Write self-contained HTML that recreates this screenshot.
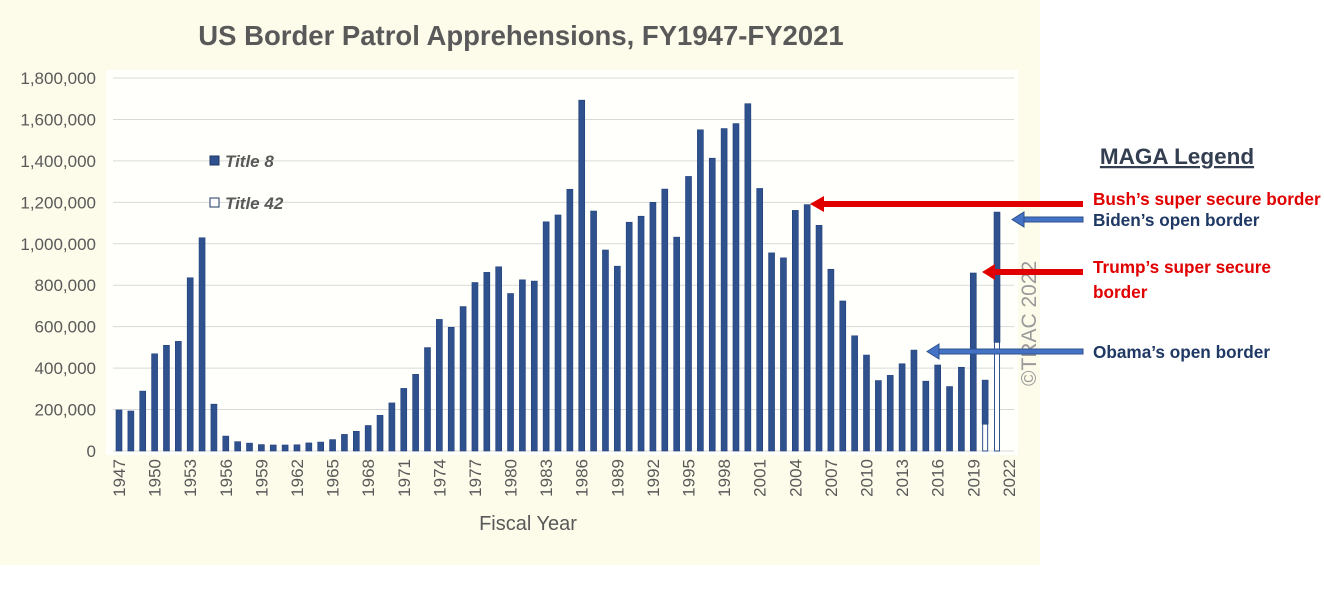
<!DOCTYPE html>
<html><head><meta charset="utf-8"><style>
body{margin:0;background:#fff;width:1324px;height:584px;overflow:hidden;font-family:"Liberation Sans",sans-serif}
</style></head><body>
<svg id="c" width="1324" height="584" xmlns="http://www.w3.org/2000/svg">
<rect x="0" y="0" width="1040" height="565" fill="#fdfbea"/>
<rect x="106" y="70" width="912" height="385" fill="#fffffb"/>
<text x="521" y="45" text-anchor="middle" font-size="27.5" font-weight="bold" fill="#595959">US Border Patrol Apprehensions, FY1947-FY2021</text>
<g id="grid"></g><g id="bars"></g><g id="xt"></g>
<text x="528" y="530" text-anchor="middle" font-size="20" fill="#595959">Fiscal Year</text>
<rect x="210" y="156" width="9" height="9" fill="#2f528f" stroke="#1f3864"/>
<text x="225" y="167" font-size="17" font-weight="bold" font-style="italic" fill="#595959">Title 8</text>
<rect x="210" y="198" width="9" height="9" fill="#fff" stroke="#1f3864"/>
<text x="225" y="209" font-size="17" font-weight="bold" font-style="italic" fill="#595959">Title 42</text>
<text transform="translate(1036,386) rotate(-90)" font-size="21" fill="#9a9a9a">©TRAC 2022</text>
<text x="1177" y="164" text-anchor="middle" font-size="22.5" font-weight="bold" fill="#333f50" text-decoration="underline">MAGA Legend</text>
<g><rect x="822" y="201" width="261" height="6" fill="#e00000"/><polygon points="810,204 824,196 824,212" fill="#e00000"/></g>
<g><rect x="1022" y="217" width="61" height="5" fill="#4472c4" stroke="#2f528f" stroke-width="1"/><polygon points="1012,219.5 1024,212 1024,227" fill="#4472c4" stroke="#2f528f"/></g>
<g><rect x="993" y="269" width="90" height="6" fill="#e00000"/><polygon points="982,272 995,264 995,280" fill="#e00000"/></g>
<g><rect x="937" y="349" width="146" height="5" fill="#4472c4" stroke="#2f528f" stroke-width="1"/><polygon points="927,351.5 939,344 939,359" fill="#4472c4" stroke="#2f528f"/></g>
<g font-size="17.2" font-weight="bold">
<text x="1093" y="205" fill="#e00000">Bush’s super secure border</text>
<text x="1093" y="226" fill="#1f3864">Biden’s open border</text>
<text x="1093" y="273" fill="#e00000">Trump’s super secure</text>
<text x="1093" y="298" fill="#e00000">border</text>
<text x="1093" y="358" fill="#1f3864">Obama’s open border</text>
</g>
</svg>
<script>
const years=[];for(let y=1947;y<=2021;y++)years.push(y);
const title8=[198,193,289,469,510,529,836,1029,226,72,45,38,31,29,29,30,39,43,55,80,95,123,172,232,302,370,499,635,597,697,813,862,889,760,826,820,1106,1139,1263,1693,1158,970,892,1104,1133,1200,1264,1032,1325,1550,1413,1556,1580,1676,1267,956,932,1161,1189,1089,877,724,556,463,340,365,421,487,337,415,311,404,859,212,628];
const title42=[0,0,0,0,0,0,0,0,0,0,0,0,0,0,0,0,0,0,0,0,0,0,0,0,0,0,0,0,0,0,0,0,0,0,0,0,0,0,0,0,0,0,0,0,0,0,0,0,0,0,0,0,0,0,0,0,0,0,0,0,0,0,0,0,0,0,0,0,0,0,0,0,0,130,525];
const yTicks=[0,200,400,600,800,1000,1200,1400,1600,1800];
const yTickLabels=["0","200,000","400,000","600,000","800,000","1,000,000","1,200,000","1,400,000","1,600,000","1,800,000"];
const xTickYears=[1947,1950,1953,1956,1959,1962,1965,1968,1971,1974,1977,1980,1983,1986,1989,1992,1995,1998,2001,2004,2007,2010,2013,2016,2019,2022];
const NS="http://www.w3.org/2000/svg";
const X=yr=>119+(yr-1947)*11.865;
const Y=v=>451-v*(373/1800);
function mk(t,p,a){const e=document.createElementNS(NS,t);for(const k in a)e.setAttribute(k,a[k]);p.appendChild(e);return e;}
const grid=document.getElementById('grid'),bars=document.getElementById('bars'),xt=document.getElementById('xt');
yTicks.forEach((v,i)=>{
 const l=mk('line',grid,{x1:113,x2:1014,y1:Y(v),y2:Y(v),stroke:'#d9d9d9','stroke-width':1});
 
 
 const t=mk('text',grid,{x:96,y:Y(v)+6,'text-anchor':'end','font-size':17,fill:'#595959'});
 t.textContent=yTickLabels[i];
 
 
});
years.forEach((yr,i)=>{
 const x=X(yr)-3;
 const b42=title42[i],b8=title8[i];
 if(b42>0){
  const r=mk('rect',bars,{x:x+0.5,y:Y(b42),width:5,height:Y(0)-Y(b42),fill:'#fff',stroke:'#2f528f','stroke-width':1});
  
  
 }
 const r=mk('rect',bars,{x:x,y:Y(b42+b8),width:6,height:Y(b42)-Y(b42+b8),fill:'#2f528f',stroke:'#203f7a','stroke-width':0.6});
 
 
});
xTickYears.forEach(yr=>{
 const t=mk('text',xt,{transform:`translate(${X(yr)+6},459) rotate(-90)`,'text-anchor':'end','font-size':17,fill:'#595959'});
 t.textContent=yr;
 
 
});
</script>
</body></html>
